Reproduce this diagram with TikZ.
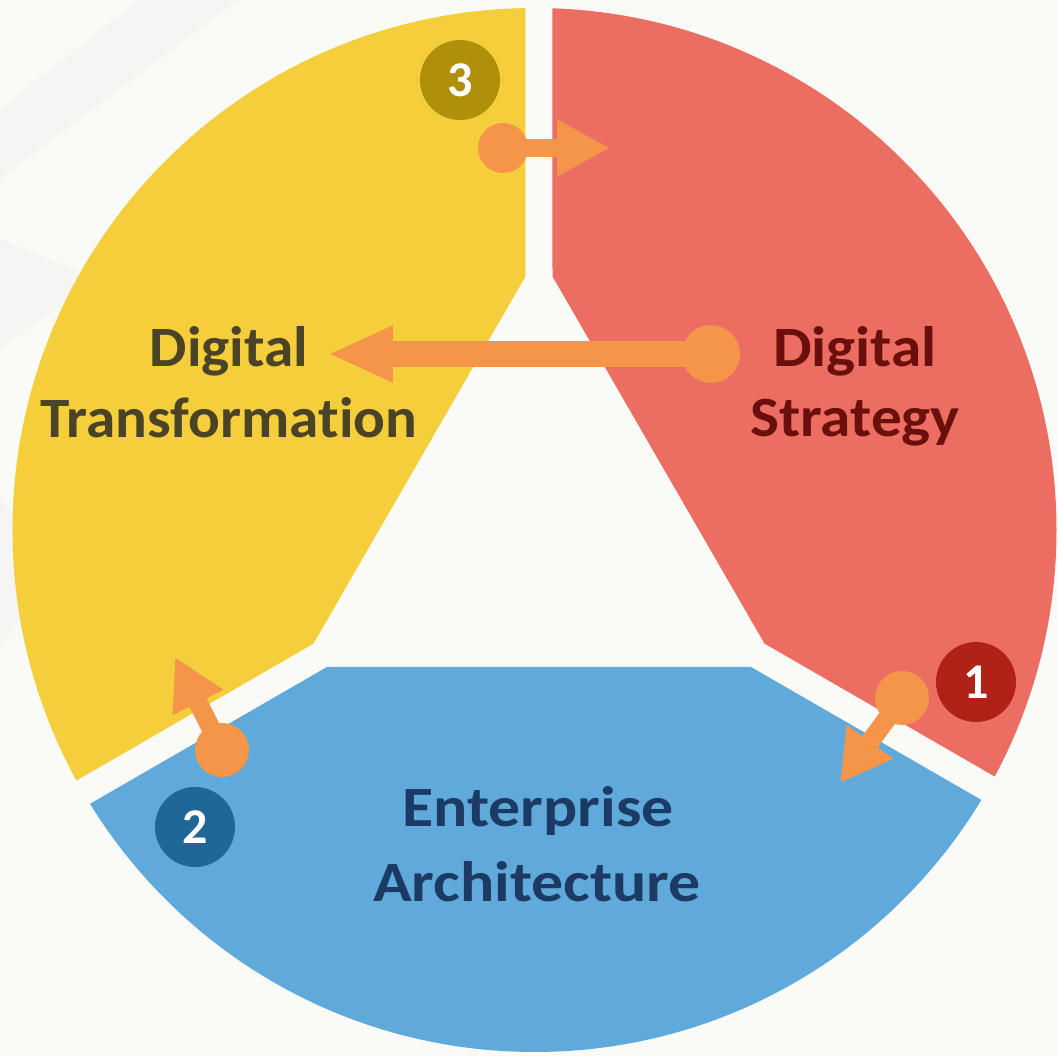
\documentclass[tikz,border=0pt]{standalone}
\usepackage{fontspec}
\setmainfont{Carlito}[Ligatures=NoCommon]
\newfontfamily\dtfont{Carlito}[Ligatures=NoCommon, FakeStretch=1.04]
\newfontfamily\dsfont{Carlito}[Ligatures=NoCommon, FakeStretch=1.075]
\newfontfamily\eafont{Carlito}[Ligatures=NoCommon, FakeStretch=1.12]
\usetikzlibrary{arrows.meta}
\definecolor{bgcol}{HTML}{FAFAF7}
\definecolor{bgtri}{HTML}{F5F5F3}
\definecolor{ycol}{HTML}{F4CE3B}
\definecolor{rcol}{HTML}{EC6E63}
\definecolor{bcol}{HTML}{5FAADB}
\definecolor{ocol}{HTML}{F5954A}
\definecolor{dtcol}{HTML}{4A4326}
\definecolor{dscol}{HTML}{6B0F0C}
\definecolor{eacol}{HTML}{1C3B64}
\definecolor{bthree}{HTML}{B0900A}
\definecolor{bone}{HTML}{B02218}
\definecolor{btwo}{HTML}{1F6796}
\tikzset{
  lbl/.style={font=\fontsize{57}{68}\selectfont\bfseries, anchor=base, inner sep=0pt},
  badge/.style={circle, inner sep=0pt, minimum size=80pt, text=white,
    font=\fontsize{50}{50}\selectfont\bfseries},
  dotc/.style={circle, fill=ocol, inner sep=0pt, minimum size=#1},
  conn/.style={draw=ocol, line width=#1},
}
\begin{document}
\begin{tikzpicture}[x=1pt,y=1pt]
\useasboundingbox (-539,-527) rectangle (519,529);
\fill[bgcol] (-539,-527) rectangle (519,529);
% faint background facets
\fill[bgtri] (-539,420) -- (-400,529) -- (-300,529) -- (-539,350) -- cycle;
\fill[bgtri] (-539,180) -- (-440,250) -- (-539,290) -- cycle;
\fill[bgtri] (-539,-120) -- (-480,-30) -- (-539,30) -- cycle;
% sectors
\begin{scope}
  \clip (-4.5,-1) circle[radius=522];
  \foreach \ang/\col in {0/ycol,-120/rcol,120/bcol}{
    \fill[\col, rotate=\ang] (-13.5,700) -- (-13.5,252.6) -- (-225.5,-114.6)
      -- (-918,-514.6) -- (-900,700) -- cycle;
  }
\end{scope}
% labels
\node[lbl, text=dtcol, font=\dtfont\fontsize{57}{68}\selectfont\bfseries] (dt1) at (-310,162) {Digital};
\node[lbl, text=dtcol, font=\dtfont\fontsize{57}{68}\selectfont\bfseries] (dt2) at (-310,91) {Transformation};
\node[lbl, text=dscol, font=\dsfont\fontsize{57}{68}\selectfont\bfseries] (ds1) at (316,162) {Digital};
\node[lbl, text=dscol, font=\dsfont\fontsize{57}{68}\selectfont\bfseries] (ds2) at (316,92) {Strategy};
\node[lbl, text=eacol, font=\eafont\fontsize{57}{68}\selectfont\bfseries] (ea1) at (-1,-298) {Enterprise};
\node[lbl, text=eacol, font=\eafont\fontsize{57}{68}\selectfont\bfseries] (ea2) at (-2,-373) {Architecture};
% badges
\node[badge, fill=bthree] (b3) at (-79,449) {3};
\node[badge, fill=bone] (b1) at (437,-153) {1};
\node[badge, fill=btwo] (b2) at (-344,-298) {2};
% connectors
\node[dotc=58pt] (s0) at (172,175) {};
\coordinate (t0) at (-211,175);
\draw[conn=26pt, -{Triangle[length=65pt,width=52pt]}] (s0.center) -- (t0);
\node[dotc=50pt] (s3) at (-36,381) {};
\coordinate (t3) at (71,381);
\draw[conn=18pt, -{Triangle[length=53pt,width=53pt]}] (s3.center) -- (t3);
\node[dotc=54pt] (s1) at (363,-169) {};
\coordinate (t1) at (301,-254);
\draw[conn=19pt, -{Triangle[length=51pt,width=54pt]}] (s1.center) -- (t1);
\node[dotc=54pt] (s2) at (-317,-221) {};
\coordinate (t2) at (-364,-128);
\draw[conn=19pt, -{Triangle[length=51pt,width=53pt]}] (s2.center) -- (t2);
\end{tikzpicture}
\end{document}
